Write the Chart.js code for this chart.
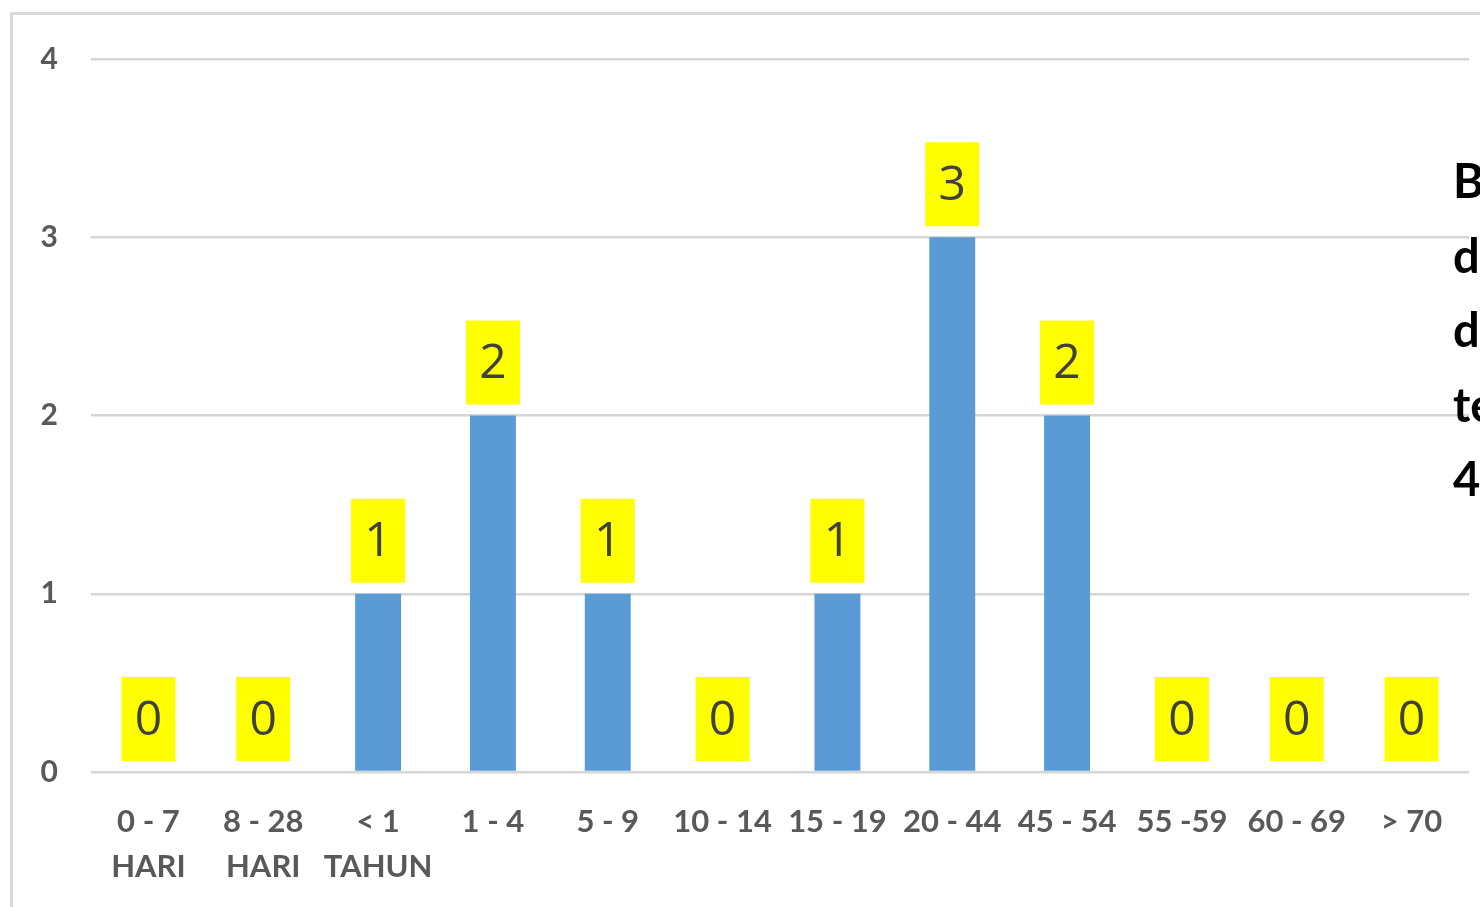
<!DOCTYPE html>
<html>
<head>
<meta charset="utf-8">
<script src="https://cdn.jsdelivr.net/npm/chart.js@4/dist/chart.umd.min.js"></script>
<style>
  html, body { margin: 0; padding: 0; background: #ffffff; overflow: hidden; }
  #wrap { position: relative; width: 1480px; height: 907px; }
  #side {
    position: absolute; left: 1453px; top: 143px;
    font-family: "Lato", "Noto Sans", sans-serif; font-weight: 700;
    font-size: 47px; line-height: 74.5px; color: #000000; white-space: nowrap;
  }
</style>
</head>
<body>
<div id="wrap">
  <canvas id="c" width="1480" height="907"></canvas>
  <div id="side">B<br>d<br>d<br>te<br>4</div>
</div>
<script>
// Age groups and case counts
const ageGroups = [["0 - 7", "HARI"], ["8 - 28", "HARI"], ["< 1", "TAHUN"], "1 - 4", "5 - 9",
  "10 - 14", "15 - 19", "20 - 44", "45 - 54", "55 -59", "60 - 69", "> 70"];
const caseCounts = [0, 0, 1, 2, 1, 0, 1, 3, 2, 0, 0, 0];
const yTicks = [0, 1, 2, 3, 4];

// Outer frame around the chart
const framePlugin = {
  id: 'frame',
  beforeDraw(chart) {
    const ctx = chart.ctx;
    ctx.save();
    ctx.strokeStyle = '#d9d9d9';
    ctx.lineWidth = 3;
    ctx.strokeRect(11.5, 13.5, 1600, 1000);
    ctx.restore();
  }
};

// Yellow value boxes above each bar
const valueBoxPlugin = {
  id: 'valueBoxes',
  afterDatasetsDraw(chart) {
    const ctx = chart.ctx;
    const meta = chart.getDatasetMeta(0);
    const values = chart.data.datasets[0].data;
    ctx.save();
    meta.data.forEach((bar, i) => {
      const w = 54, h = 84;
      const bottom = bar.y - 11;
      const left = bar.x - w / 2;
      ctx.fillStyle = '#ffff00';
      ctx.fillRect(left, bottom - h, w, h);
      ctx.fillStyle = '#404040';
      ctx.font = '400 48px "Open Sans", "Lato", sans-serif';
      ctx.textAlign = 'center';
      ctx.textBaseline = 'middle';
      ctx.fillText(String(values[i]), bar.x, bottom - h / 2 + 2);
    });
    ctx.restore();
  }
};

new Chart(document.getElementById('c'), {
  type: 'bar',
  data: {
    labels: ageGroups,
    datasets: [{
      data: caseCounts,
      backgroundColor: '#5b9bd5',
      borderWidth: 0,
      barPercentage: 0.4,
      categoryPercentage: 1.0
    }]
  },
  options: {
    responsive: false,
    animation: false,
    devicePixelRatio: 1,
    layout: { padding: { top: 59, right: 11, bottom: 0, left: 0 } },
    plugins: { legend: { display: false }, tooltip: { enabled: false } },
    scales: {
      x: {
        grid: { display: false, drawTicks: false },
        border: { display: false },
        ticks: {
          color: '#595959',
          font: { family: 'Lato', weight: 'bold', size: 31, lineHeight: 1.45 },
          padding: 28,
          maxRotation: 0,
          autoSkip: false
        },
        afterFit(scale) { scale.height = 135; }
      },
      y: {
        min: 0,
        max: 4,
        afterBuildTicks(scale) { scale.ticks = yTicks.map(v => ({ value: v })); },
        grid: { color: '#d6d6d6', lineWidth: 2.5, drawTicks: false },
        border: { display: false },
        ticks: {
          color: '#595959',
          font: { family: 'Lato', weight: 'bold', size: 30 },
          padding: 33
        },
        afterFit(scale) { scale.width = 91; }
      }
    }
  },
  plugins: [framePlugin, valueBoxPlugin]
});
</script>
</body>
</html>
